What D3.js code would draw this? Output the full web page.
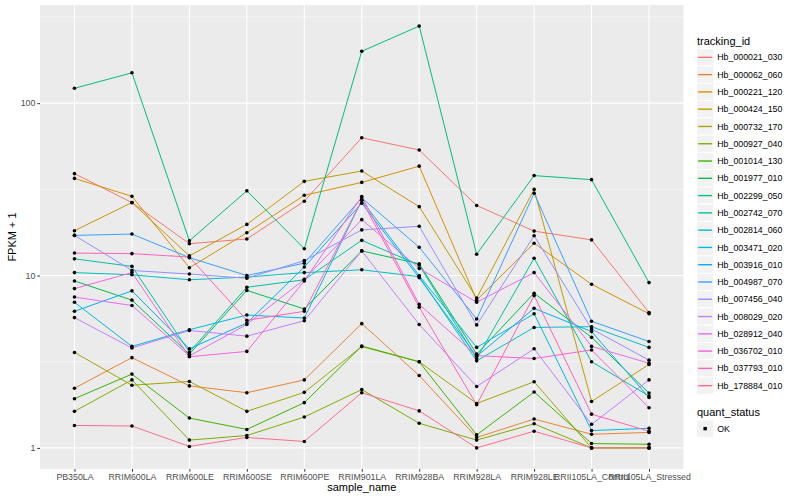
<!DOCTYPE html>
<html>
<head>
<meta charset="utf-8">
<script src="https://cdn.jsdelivr.net/npm/d3@7"></script>
<style>
  body { margin: 0; background: #fff; }
  text { font-family: "Liberation Sans", Arial, sans-serif; }
</style>
</head>
<body>
<div id="chart"></div>
<script>
// sample names (x axis)
const samples = ["PB350LA", "RRIM600LA", "RRIM600LE", "RRIM600SE", "RRIM600PE", "RRIM901LA",
  "RRIM928BA", "RRIM928LA", "RRIM928LE", "RRII105LA_Control", "RRII105LA_Stressed"];

// tracking ids (legend order)
const ids = ["Hb_000021_030", "Hb_000062_060", "Hb_000221_120", "Hb_000424_150", "Hb_000732_170",
  "Hb_000927_040", "Hb_001014_130", "Hb_001977_010", "Hb_002299_050", "Hb_002742_070",
  "Hb_002814_060", "Hb_003471_020", "Hb_003916_010", "Hb_004987_070", "Hb_007456_040",
  "Hb_008029_020", "Hb_028912_040", "Hb_036702_010", "Hb_037793_010", "Hb_178884_010"];

// FPKM + 1, one array per tracking id, in sample order
const v000021 = [39, 26.5, 15.3, 16.3, 27, 63, 53.5, 25.5, 18.1, 16.1, 6.1];
const v000062 = [2.22, 3.34, 2.29, 2.09, 2.48, 5.26, 2.63, 1.15, 1.47, 1.2, 1.23];
const v000221 = [36.6, 28.8, 11.1, 17.7, 29.2, 34.7, 43.1, 7.2, 15.4, 8.9, 6.0];
const v000424 = [18.2, 26.5, 13.0, 19.8, 35.2, 40.4, 25.1, 7.4, 31.6, 1.86, 3.05];
const v000732 = [3.58, 2.31, 2.43, 1.63, 2.1, 3.87, 3.16, 1.81, 2.42, 1.0, 1.0];
const v000927 = [1.63, 2.48, 1.11, 1.18, 1.51, 2.18, 1.39, 1.11, 1.38, 1.0, 1.0];
const v001014 = [1.93, 2.68, 1.49, 1.28, 1.83, 3.9, 3.16, 1.19, 2.11, 1.06, 1.05];
const v001977 = [9.3, 7.2, 3.5, 8.2, 6.4, 13.9, 11.7, 3.5, 7.9, 4.38, 2.08];
const v002299 = [122, 150, 15.9, 31, 14.3, 200, 280, 13.3, 38, 36, 9.1];
const v002742 = [12.5, 11.3, 3.6, 8.55, 9.45, 16.0, 11.5, 3.3, 12.6, 3.16, 2.0];
const v002814 = [10.4, 10.1, 9.45, 9.8, 10.4, 10.8, 9.85, 3.2, 5.0, 5.05, 3.83];
const v003471 = [7.0, 3.88, 4.85, 5.9, 5.67, 27.3, 10.0, 3.83, 6.0, 1.26, 1.3];
const v003916 = [6.2, 8.15, 3.76, 5.3, 11.2, 26.3, 9.7, 3.4, 6.45, 4.73, 1.96];
const v004987 = [17.1, 17.4, 12.7, 10.0, 11.8, 28.2, 14.6, 5.6, 30, 5.43, 4.14];
const v007456 = [17.1, 10.7, 10.2, 9.65, 12.2, 18.4, 19.3, 5.17, 17, 4.9, 3.23];
const v008029 = [5.7, 3.8, 4.8, 4.45, 5.47, 13.9, 5.2, 2.27, 3.76, 1.37, 2.48];
const v028912 = [7.5, 6.7, 3.42, 5.2, 9.5, 21.1, 11.0, 7.0, 10.4, 3.88, 3.1];
const v036702 = [8.4, 10.4, 3.38, 3.63, 9.3, 28.7, 6.8, 3.43, 3.3, 3.7, 1.71];
const v037793 = [13.5, 13.4, 12.8, 5.5, 6.2, 27.3, 6.55, 1.78, 7.65, 1.57, 1.25];
const v178884 = [1.35, 1.34, 1.02, 1.15, 1.09, 2.09, 1.64, 1.0, 1.25, 1.0, 1.0];

const values = [v000021, v000062, v000221, v000424, v000732, v000927, v001014, v001977,
  v002299, v002742, v002814, v003471, v003916, v004987, v007456, v008029, v028912,
  v036702, v037793, v178884];

const yTicks = [1, 10, 100];
const yMinor = [Math.sqrt(10), Math.sqrt(1000), Math.sqrt(100000)];

// ggplot hue palette, 20 levels
const colors = ["#F8766D", "#EA8331", "#D89000", "#C09B00", "#A3A500", "#7CAE00", "#39B600",
  "#00BB4E", "#00BF7D", "#00C1A3", "#00BFC4", "#00BAE0", "#00B0F6", "#35A2FF", "#9590FF",
  "#C77CFF", "#E76BF3", "#FA62DB", "#FF62BC", "#FF6C90"];

const series = ids.map((id, i) => ({
  id: id,
  color: colors[i],
  points: samples.map((s, j) => ({ sample: s, value: values[i][j] }))
}));

// sizes
const W = 800, H = 500;
const panel = { left: 40, top: 5, right: 683.5, bottom: 469 };

const svg = d3.select("#chart").append("svg")
  .attr("width", W)
  .attr("height", H);

// scales
const x = d3.scalePoint()
  .domain(samples)
  .range([panel.left, panel.right])
  .padding(0.6);

const allVals = values.flat();
const lo = Math.log10(d3.min(allVals)), hi = Math.log10(d3.max(allVals));
const pad = (hi - lo) * 0.05;
const y = d3.scaleLog()
  .domain([Math.pow(10, lo - pad), Math.pow(10, hi + pad)])
  .range([panel.bottom, panel.top]);

// panel
svg.append("rect")
  .attr("x", panel.left).attr("y", panel.top)
  .attr("width", panel.right - panel.left)
  .attr("height", panel.bottom - panel.top)
  .attr("fill", "#EBEBEB");

// grid
const grid = svg.append("g");
grid.selectAll(".minor").data(yMinor).enter().append("line")
  .attr("x1", panel.left).attr("x2", panel.right)
  .attr("y1", d => y(d)).attr("y2", d => y(d))
  .attr("stroke", "#fff").attr("stroke-width", 0.55);
grid.selectAll(".major").data(yTicks).enter().append("line")
  .attr("x1", panel.left).attr("x2", panel.right)
  .attr("y1", d => y(d)).attr("y2", d => y(d))
  .attr("stroke", "#fff").attr("stroke-width", 1.1);
grid.selectAll(".vmajor").data(samples).enter().append("line")
  .attr("x1", d => x(d)).attr("x2", d => x(d))
  .attr("y1", panel.top).attr("y2", panel.bottom)
  .attr("stroke", "#fff").attr("stroke-width", 1.1);

// lines
const line = d3.line()
  .x(d => x(d.sample))
  .y(d => y(d.value));

svg.append("g").selectAll("path")
  .data(series)
  .enter()
  .append("path")
  .attr("fill", "none")
  .attr("stroke", d => d.color)
  .attr("stroke-width", 1)
  .attr("d", d => line(d.points));

// points
svg.append("g").selectAll("circle")
  .data(series.flatMap(s => s.points))
  .enter()
  .append("circle")
  .attr("cx", d => x(d.sample))
  .attr("cy", d => y(d.value))
  .attr("r", 1.8)
  .attr("fill", "#000");

// axes
const yAxis = d3.axisLeft(y).tickValues(yTicks).tickFormat(d3.format("d")).tickSize(2.7).tickPadding(2);
const xAxis = d3.axisBottom(x).tickSize(2.7).tickPadding(2);

const gy = svg.append("g")
  .attr("transform", `translate(${panel.left},0)`)
  .call(yAxis);
const gx = svg.append("g")
  .attr("transform", `translate(0,${panel.bottom})`)
  .call(xAxis);

[gx, gy].forEach(g => {
  g.select(".domain").remove();
  g.selectAll(".tick line").attr("stroke", "#333").attr("stroke-width", 1);
  g.selectAll(".tick text")
    .attr("fill", "#4D4D4D")
    .style("font-family", "'Liberation Sans', Arial, sans-serif")
    .style("font-size", "8.8px");
});

// axis titles
svg.append("text")
  .attr("x", (panel.left + panel.right) / 2)
  .attr("y", 491)
  .attr("text-anchor", "middle")
  .style("font-size", "11px")
  .text("sample_name");

svg.append("text")
  .attr("transform", `translate(16,${(panel.top + panel.bottom) / 2}) rotate(-90)`)
  .attr("text-anchor", "middle")
  .style("font-size", "11px")
  .text("FPKM + 1");

// legend: tracking_id
const key = 17.28;
const legX = 696.5, legY = 48.7;
const legend = svg.append("g");
legend.append("text")
  .attr("x", 697).attr("y", 44.5)
  .style("font-size", "11px")
  .text("tracking_id");

const rows = legend.selectAll(".row").data(series).enter().append("g")
  .attr("transform", (d, i) => `translate(${legX},${legY + i * key})`);
rows.append("rect")
  .attr("width", key).attr("height", key)
  .attr("fill", "#F2F2F2").attr("stroke", "#fff").attr("stroke-width", 1);
rows.append("line")
  .attr("x1", 1.7).attr("x2", key - 1.7)
  .attr("y1", key / 2).attr("y2", key / 2)
  .attr("stroke", d => d.color).attr("stroke-width", 1.4);
rows.append("text")
  .attr("x", key + 3.5).attr("y", key / 2 + 3.1)
  .style("font-size", "8.8px")
  .attr("fill", "#000")
  .text(d => d.id);

// legend: quant_status
const qs = ["OK"];
const q0 = 398;
legend.append("text")
  .attr("x", 697).attr("y", q0 + 17.5)
  .style("font-size", "11px")
  .text("quant_status");
const qrow = legend.selectAll(".qrow").data(qs).enter().append("g")
  .attr("transform", (d, i) => `translate(${legX},${q0 + 22 + i * key})`);
qrow.append("rect")
  .attr("width", key).attr("height", key)
  .attr("fill", "#F2F2F2").attr("stroke", "#fff");
qrow.append("rect")
  .attr("x", key / 2 - 1.7).attr("y", key / 2 - 1.7)
  .attr("width", 3.4).attr("height", 3.4).attr("fill", "#000");
qrow.append("text")
  .attr("x", key + 3.5).attr("y", key / 2 + 3.1)
  .style("font-size", "8.8px")
  .text(d => d);
</script>
</body>
</html>
